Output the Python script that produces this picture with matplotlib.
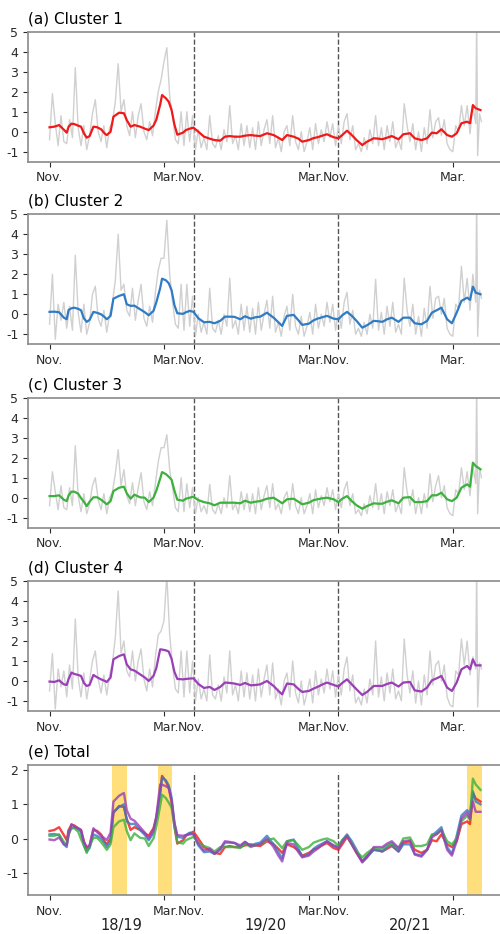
import matplotlib
matplotlib.use("Agg")
import matplotlib.pyplot as plt
import matplotlib.transforms as mtransforms

plt.rcParams["font.family"] = "DejaVu Sans"
plt.rcParams["axes.unicode_minus"] = False

# ─── Data ──────────────────────────────────────────────────────────────────────
# x axis = day index over the three winters (Nov 1 - Mar 31), seasons glued together
SEASON_START = [0, 151, 303]
MARCH_START = [120, 272, 423]
SEASONS = ["18/19", "19/20", "20/21"]
SEASON_MID = [75, 227, 378]
HIGHLIGHTS = [(66, 81), (114, 128.5), (438, 454)]

# smoothed curves
DAYS = [0, 5, 10, 15, 18, 20, 23, 26, 30, 33,
        36, 39, 42, 46, 50, 54, 58, 60, 64, 67,
        73, 78, 81, 85, 89, 95, 100, 104, 109, 112,
        116, 118, 122, 125, 128, 131, 134, 140, 143, 147,
        151, 156, 162, 168, 173, 179, 184, 189, 194, 200,
        205, 211, 216, 221, 228, 235, 240, 244, 249, 256,
        261, 265, 272, 277, 281, 286, 291, 298, 303, 307,
        312, 317, 322, 328, 333, 340, 345, 349, 354, 359,
        366, 371, 378, 383, 390, 396, 401, 406, 411, 417,
        422, 427, 432, 438, 441, 444, 447, 452]

cluster1 = [0.22, 0.25, 0.33, 0.10, -0.05, 0.25, 0.40, 0.38, 0.30, 0.25,
            -0.08, -0.30, -0.22, 0.25, 0.22, 0.12, -0.10, -0.17, 0.00, 0.75,
            0.95, 0.92, 0.58, 0.25, 0.33, 0.25, 0.15, 0.08, 0.30, 0.60,
            1.35, 1.83, 1.67, 1.50, 1.08, 0.35, -0.15, -0.05, 0.08, 0.15,
            0.20, 0.00, -0.25, -0.35, -0.42, -0.45, -0.25, -0.22, -0.25, -0.25,
            -0.20, -0.17, -0.20, -0.22, -0.08, -0.17, -0.30, -0.42, -0.17, -0.25,
            -0.35, -0.50, -0.42, -0.32, -0.28, -0.20, -0.13, -0.28, -0.33, -0.17,
            0.05, -0.17, -0.42, -0.67, -0.50, -0.33, -0.35, -0.38, -0.30, -0.22,
            -0.38, -0.13, -0.08, -0.33, -0.42, -0.33, -0.05, -0.08, 0.12, -0.17,
            -0.25, -0.08, 0.42, 0.50, 0.42, 1.33, 1.17, 1.08]

cluster2 = [0.12, 0.13, 0.10, -0.17, -0.25, 0.22, 0.30, 0.33, 0.27, 0.20,
            -0.20, -0.38, -0.28, 0.12, 0.07, 0.00, -0.15, -0.25, -0.08, 0.78,
            0.92, 1.00, 0.50, 0.42, 0.43, 0.25, 0.10, -0.05, 0.17, 0.60,
            1.30, 1.78, 1.70, 1.55, 1.20, 0.45, 0.05, 0.02, 0.10, 0.17,
            0.12, -0.20, -0.40, -0.38, -0.45, -0.33, -0.12, -0.12, -0.13, -0.25,
            -0.10, -0.22, -0.15, -0.12, 0.08, -0.17, -0.40, -0.58, -0.08, -0.03,
            -0.30, -0.53, -0.47, -0.30, -0.22, -0.15, -0.08, -0.22, -0.25, -0.05,
            0.12, -0.08, -0.33, -0.67, -0.55, -0.33, -0.35, -0.38, -0.25, -0.17,
            -0.38, -0.17, -0.17, -0.45, -0.50, -0.33, 0.08, 0.20, 0.33, -0.25,
            -0.45, 0.08, 0.67, 0.83, 0.72, 1.38, 1.08, 1.00]

cluster3 = [0.08, 0.08, 0.12, -0.10, -0.17, 0.12, 0.30, 0.30, 0.20, -0.02,
            -0.20, -0.42, -0.20, 0.02, 0.02, -0.10, -0.25, -0.33, -0.17, 0.33,
            0.50, 0.55, 0.22, -0.05, 0.15, 0.02, 0.00, -0.22, 0.00, 0.35,
            0.95, 1.28, 1.18, 1.05, 0.90, 0.35, -0.10, -0.15, -0.05, 0.00,
            0.05, -0.12, -0.22, -0.28, -0.38, -0.25, -0.25, -0.25, -0.25, -0.28,
            -0.15, -0.25, -0.20, -0.17, -0.05, 0.00, -0.15, -0.28, -0.08, -0.05,
            -0.20, -0.33, -0.25, -0.12, -0.08, -0.03, 0.00, -0.08, -0.22, -0.05,
            0.08, -0.17, -0.38, -0.55, -0.42, -0.28, -0.30, -0.30, -0.20, -0.13,
            -0.28, 0.00, 0.03, -0.22, -0.22, -0.17, 0.12, 0.12, 0.25, -0.08,
            -0.17, 0.00, 0.50, 0.67, 0.55, 1.75, 1.58, 1.42]

cluster4 = [-0.03, -0.05, 0.03, -0.17, -0.20, 0.10, 0.42, 0.35, 0.30, 0.25,
            -0.10, -0.25, -0.20, 0.30, 0.18, 0.08, 0.00, -0.05, 0.17, 1.08,
            1.25, 1.33, 0.83, 0.58, 0.52, 0.33, 0.17, 0.00, 0.25, 0.65,
            1.58, 1.57, 1.53, 1.47, 1.10, 0.45, 0.10, 0.08, 0.10, 0.12,
            0.13, -0.15, -0.35, -0.30, -0.45, -0.30, -0.08, -0.10, -0.13, -0.20,
            -0.10, -0.22, -0.20, -0.17, 0.00, -0.25, -0.50, -0.67, -0.13, -0.17,
            -0.40, -0.55, -0.50, -0.38, -0.30, -0.18, -0.08, -0.20, -0.28, -0.10,
            0.08, -0.17, -0.42, -0.70, -0.55, -0.25, -0.25, -0.25, -0.15, -0.08,
            -0.28, -0.08, -0.05, -0.47, -0.53, -0.33, 0.03, 0.13, 0.25, -0.33,
            -0.50, -0.08, 0.58, 0.75, 0.58, 1.08, 0.78, 0.78]

# raw (grey) series, every 3rd day plus the last few days
GRAY_DAYS = list(range(0, 448, 3)) + [448, 449, 451, 453]

raw1 = [-0.4, 1.9, 0.4, -0.7, 0.8, -0.5, -0.6, 0.6, -0.3, 3.2,
        0.2, -0.7, 0.3, -0.9, -0.2, 0.9, 1.6, 0.0, -0.5, 0.3,
        -0.8, 0.2, 0.5, 1.5, 3.4, 1.0, 1.6, 0.3, -0.2, 1.0,
        -0.3, 0.8, 1.4, 0.0, -0.4, 0.5, -0.2, 1.0, 2.0, 2.6,
        3.5, 4.2, 1.8, 0.8, -0.4, -0.6, 1.0, -0.7, 1.0, -0.5,
        0.8, -0.9, 0.1, -0.8, -0.3, -0.9, 0.8, -0.6, -0.8, -0.2,
        -0.9, 0.1, -0.5, 1.3, -0.6, -0.2, -0.9, 0.4, -0.7, 0.3,
        -0.8, 0.2, -0.9, 0.5, -0.7, 0.1, 0.6, -0.6, 0.8, -0.8,
        -0.3, -1.0, 0.0, 0.3, -0.7, 0.8, -0.5, -0.9, 0.0, -1.0,
        -0.5, 0.2, -0.9, 0.4, -0.6, 0.1, -0.5, 0.5, -0.3, 0.4,
        -0.7, 0.3, -0.6, 0.5, 0.9, -0.4, 0.3, -0.9, -0.6, -1.0,
        -0.3, -0.9, 0.1, -0.6, 0.8, -0.7, 0.2, -0.9, 0.3, -0.5,
        0.5, -0.8, -0.4, -0.9, 1.4, 0.3, -0.5, 0.4, -0.9, 0.0,
        -1.0, 0.2, -0.6, 1.1, -0.3, 0.5, 0.7, -0.2, 0.6, -0.6,
        -0.9, -1.0, 0.3, 0.0, 1.3, 0.3, 1.3, -0.1, 1.3, 0.4,
        5.8, -1.2, 0.9, 0.5]

raw2 = [-0.5, 2.0, -1.25, 0.5, -0.3, 0.6, -0.7, 0.4, -0.8, 2.95,
        0.1, -0.9, 0.5, -1.0, -0.4, 1.0, 1.4, -0.2, -0.6, 0.2,
        -0.9, 0.0, 0.6, 1.7, 4.0, 1.2, 1.5, 0.2, -0.1, 1.3,
        -0.3, 0.7, 1.5, -0.2, -0.6, 0.4, -0.4, 1.1, 2.2, 2.8,
        2.8, 4.7, 2.0, 0.6, -0.5, -0.7, 1.5, -0.8, 1.5, -0.6,
        0.9, -1.1, 0.0, -0.9, -0.4, -1.0, 1.3, -0.7, -0.9, -0.3,
        -1.0, 0.0, -0.6, 1.8, -0.7, -0.3, -1.0, 0.5, -0.8, 0.4,
        -0.9, 0.3, -1.0, 0.6, -0.8, 0.0, 0.7, -0.7, 0.9, -0.9,
        -0.4, -1.1, -0.1, 0.4, -0.8, 1.0, -0.6, -1.0, -0.1, -1.1,
        -0.6, 0.1, -1.0, 0.5, -0.7, 0.0, -0.6, 0.6, -0.4, 0.5,
        -0.8, 0.2, -0.7, 0.6, 1.1, -0.5, 0.2, -1.0, -0.7, -1.1,
        -0.4, -1.0, 0.0, -0.7, 1.75, -0.8, 0.1, -1.0, 0.4, -0.6,
        0.6, -0.9, -0.5, -1.0, 1.8, 0.2, -0.6, 0.5, -1.0, -0.1,
        -1.1, 0.3, -0.7, 1.4, -0.2, 0.8, 0.9, 0.0, 0.8, -0.7,
        -1.0, -1.1, 0.5, 0.3, 2.4, 0.6, 1.8, 0.2, 2.0, 0.6,
        5.8, -1.1, 1.2, 0.8]

raw3 = [-0.4, 1.3, 0.3, -0.6, 0.6, -0.5, -0.6, 0.5, -0.4, 2.6,
        0.1, -0.7, 0.2, -0.8, -0.3, 0.6, 1.0, -0.1, -0.6, 0.2,
        -0.8, 0.0, 0.3, 1.2, 2.4, 0.6, 1.4, 0.1, -0.3, 0.75,
        -0.4, 0.5, 1.25, -0.2, -0.6, 0.3, -0.4, 0.7, 1.8, 2.5,
        2.5, 3.15, 1.4, 0.5, -0.5, -0.7, 1.0, -0.7, 0.7, -0.5,
        0.5, -0.8, 0.0, -0.7, -0.4, -0.8, 0.67, -0.6, -0.8, -0.3,
        -0.8, 0.0, -0.5, 1.1, -0.6, -0.3, -0.8, 0.3, -0.6, 0.2,
        -0.7, 0.2, -0.8, 0.5, -0.6, 0.1, 0.6, -0.5, 0.7, -0.6,
        -0.3, -0.8, 0.0, 0.3, -0.6, 0.7, -0.4, -0.8, 0.0, -0.8,
        -0.4, 0.2, -0.8, 0.4, -0.5, 0.1, -0.4, 0.5, -0.2, 0.4,
        -0.6, 0.2, -0.5, 0.4, 0.8, -0.4, 0.2, -0.8, -0.6, -0.9,
        -0.3, -0.8, 0.1, -0.5, 0.7, -0.6, 0.2, -0.8, 0.3, -0.4,
        0.4, -0.7, -0.3, -0.8, 1.5, 0.3, -0.4, 0.4, -0.8, 0.0,
        -0.8, 0.2, -0.5, 1.2, -0.2, 0.6, 1.1, 0.0, 0.6, -0.5,
        -0.8, -0.9, 0.4, 0.2, 1.5, 0.4, 1.3, 0.1, 1.6, 0.7,
        5.8, -0.8, 1.5, 1.0]

raw4 = [-0.5, 1.37, -1.4, 0.6, -0.3, 0.5, -0.8, 0.8, -0.4, 3.1,
        0.2, -0.8, 0.4, -0.9, 0.0, 1.0, 1.5, 0.1, -0.6, 0.3,
        -0.7, 0.3, 0.9, 2.2, 4.5, 1.4, 2.0, 0.5, 0.2, 1.5,
        0.0, 1.0, 1.6, 0.1, -0.5, 0.6, -0.3, 1.2, 2.3, 2.5,
        3.0, 5.3, 2.3, 0.8, -0.4, -0.6, 1.5, -0.8, 1.5, -0.6,
        1.0, -1.0, 0.1, -0.9, -0.4, -1.0, 1.3, -0.7, -0.9, -0.2,
        -1.0, 0.2, -0.6, 1.5, -0.7, -0.2, -1.0, 0.5, -0.8, 0.4,
        -0.9, 0.3, -1.0, 0.6, -0.8, 0.1, 0.8, -0.7, 0.9, -0.9,
        -0.4, -1.2, 0.0, 0.4, -0.8, 1.0, -0.6, -1.1, 0.0, -1.2,
        -0.6, 0.1, -1.1, 0.5, -0.7, 0.1, -0.6, 0.6, -0.4, 0.5,
        -0.8, 0.3, -0.7, 0.6, 1.2, -0.5, 0.3, -1.1, -0.8, -1.2,
        -0.4, -1.1, 0.1, -0.7, 2.0, -0.8, 0.2, -1.0, 0.4, -0.6,
        0.6, -0.9, -0.5, -1.0, 2.1, 0.3, -0.6, 0.5, -1.1, 0.0,
        -1.2, 0.3, -0.7, 1.5, -0.2, 0.8, 1.0, 0.0, 0.8, -0.8,
        -1.2, -1.3, 0.5, 0.3, 2.1, 0.8, 2.0, 0.3, 1.2, 0.6,
        5.8, -1.3, 0.9, 0.6]

TITLES = ["(a) Cluster 1", "(b) Cluster 2", "(c) Cluster 3", "(d) Cluster 4"]
COLORS = ["#f21818", "#2f7cc4", "#3cb13c", "#9a3fb6"]

# ─── Helpers ───────────────────────────────────────────────────────────────────

def style_axis(fig, ax, ylim, yticks):
    ticks = sorted(SEASON_START + MARCH_START)
    labels = ["Mar." if t in MARCH_START else "Nov." for t in ticks]
    ax.set_xticks(ticks)
    ax.set_xticklabels(labels)
    ax.set_xlim(-22.6, 475.6)
    ax.set_ylim(*ylim)
    ax.set_yticks(yticks)
    ax.set_yticklabels([str(t) for t in yticks])
    ax.tick_params(labelsize=9, colors="#2a2a2a", length=3.5)
    for sp in ax.spines.values():
        sp.set_color("#8a8a8a")
        sp.set_linewidth(1.2)
    # pull "Mar." and "Nov." together at the season joins -> "Mar.Nov."
    for t, lab in zip(ticks, ax.get_xticklabels()):
        dx = 0
        if t in MARCH_START[:2]:
            dx = 1.6
        elif t in SEASON_START[1:]:
            dx = -1.6
        if dx:
            off = mtransforms.ScaledTranslation(dx / 72, 0, fig.dpi_scale_trans)
            lab.set_transform(lab.get_transform() + off)


def season_lines(ax, ymin, ymax):
    ax.vlines(SEASON_START[1:], ymin, ymax, colors="#555555",
              linestyles="--", lw=1.0, zorder=1)


# ─── Figure ────────────────────────────────────────────────────────────────────
fig = plt.figure(figsize=(5, 9.34), dpi=100)
bottoms = [0.8269, 0.6314, 0.4350, 0.2388]
smooth = [cluster1, cluster2, cluster3, cluster4]
raws = [raw1, raw2, raw3, raw4]

for i in range(4):
    ax = fig.add_axes([0.056, bottoms[i], 0.95, 0.1392])
    ax.plot(GRAY_DAYS, raws[i], color="#d0d0d0", lw=1.0, zorder=2)
    ax.plot(DAYS, smooth[i], color=COLORS[i], lw=1.6, zorder=3)
    season_lines(ax, -1.5, 5)
    style_axis(fig, ax, (-1.5, 5), [-1, 0, 1, 2, 3, 4, 5])
    ax.set_title(TITLES[i], loc="left", fontsize=11)

# (e) Total
ax = fig.add_axes([0.056, 0.0418, 0.95, 0.1392])
for a, b in HIGHLIGHTS:
    ax.axvspan(a, b, color="#ffd54f", alpha=0.75, lw=0, zorder=0)
for i in range(4):
    ax.plot(DAYS, smooth[i], color=COLORS[i], lw=1.7, alpha=0.8, zorder=3)
season_lines(ax, -1.5, 1.95)
style_axis(fig, ax, (-1.65, 2.15), [-1, 0, 1, 2])
ax.set_title("(e) Total", loc="left", fontsize=11)

trans = mtransforms.blended_transform_factory(ax.transData, ax.transAxes)
for mid, name in zip(SEASON_MID, SEASONS):
    ax.text(mid, -0.235, name, transform=trans, ha="center", va="center",
            fontsize=10.5, color="#222222")

plt.savefig("out.png", dpi=100)
